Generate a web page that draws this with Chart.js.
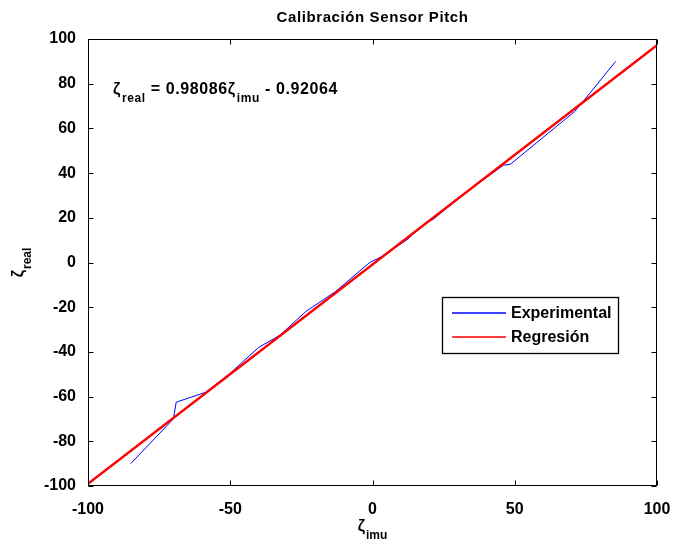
<!DOCTYPE html>
<html>
<head>
<meta charset="utf-8">
<script src="https://cdn.jsdelivr.net/npm/chart.js@4.4.1/dist/chart.umd.min.js"></script>
<style>
html,body{margin:0;padding:0;background:#fff;}
#c{display:block;}
</style>
</head>
<body>
<canvas id="c" width="677" height="542"></canvas>
<script>
const titleText = 'Calibración Sensor Pitch';
const seriesNames = ['Experimental', 'Regresión'];
const expX = [-85, -70, -69, -58.5, -50, -40, -32.5, -23.5, -13, -1, 3, 12.5, 14.5, 19, 21, 33, 46, 48.5, 71, 74, 85.5];
const expY = [-90, -70, -62.5, -58, -49.5, -38, -32.5, -22, -13, 0, 2.5, 10.5, 13, 18, 19, 31.5, 43.5, 44, 67.5, 72, 90];
const regX = [-100, 100];
const regY = [-99.0, 97.2];
const xTicks = [-100, -50, 0, 50, 100];
const yTicks = [-100, -80, -60, -40, -20, 0, 20, 40, 60, 80, 100];
const eqSlope = '0.98086';
const eqIntercept = '0.92064';

const FONT = '"Liberation Sans", Arial, sans-serif';

const toPts = (xs, ys) => xs.map((x, i) => ({x: x, y: ys[i]}));

const decor = {
  id: 'decor',
  afterDraw(chart) {
    const ctx = chart.ctx;
    const a = chart.chartArea;
    const xs = chart.scales.x, ys = chart.scales.y;
    ctx.save();
    // box
    ctx.strokeStyle = '#000';
    ctx.lineWidth = 1;
    const L = Math.round(a.left) + 0.5, R = Math.round(a.right) - 0.5;
    const T = Math.round(a.top) + 0.5, B = Math.round(a.bottom) - 0.5;
    ctx.strokeRect(L, T, R - L, B - T);
    // inward ticks
    const tl = 5;
    ctx.beginPath();
    xTicks.forEach(v => {
      const p = Math.round(xs.getPixelForValue(v)) + 0.5;
      ctx.moveTo(p, B); ctx.lineTo(p, B - tl);
      ctx.moveTo(p, T); ctx.lineTo(p, T + tl);
    });
    yTicks.forEach(v => {
      const p = Math.round(ys.getPixelForValue(v)) + 0.5;
      ctx.moveTo(L, p); ctx.lineTo(L + tl, p);
      ctx.moveTo(R, p); ctx.lineTo(R - tl, p);
    });
    ctx.stroke();

    ctx.fillStyle = '#000';
    // title
    ctx.font = 'bold 15px ' + FONT;
    ctx.letterSpacing = '0.6px';
    ctx.textAlign = 'center';
    ctx.textBaseline = 'middle';
    ctx.fillText(titleText, (a.left + a.right) / 2, 18);

    // helper for zeta with subscript
    function zsub(x, y, sub, main, subF) {
      ctx.textAlign = 'left';
      ctx.textBaseline = 'alphabetic';
      ctx.font = main;
      ctx.fillText('ζ', x, y);
      let w = ctx.measureText('ζ').width + 1;
      ctx.font = subF;
      ctx.fillText(sub, x + w, y + 8);
      w += ctx.measureText(sub).width;
      return w;
    }
    const mainF = 'bold 16px ' + FONT;
    const subF = 'bold 12px ' + FONT;

    // equation annotation
    ctx.letterSpacing = '0.6px';
    let x0 = 113, yb = 94;
    x0 += zsub(x0, yb, 'real', mainF, subF);
    ctx.font = mainF;
    let s = ' = ' + eqSlope;
    ctx.fillText(s, x0, yb);
    x0 += ctx.measureText(s).width;
    x0 += zsub(x0, yb, 'imu', mainF, subF);
    ctx.font = mainF;
    ctx.fillText(' - ' + eqIntercept, x0, yb);
    ctx.letterSpacing = '0px';

    // x axis label
    ctx.font = mainF;
    let wz = ctx.measureText('ζ').width + 1;
    ctx.font = subF;
    let wt = wz + ctx.measureText('imu').width;
    zsub((a.left + a.right) / 2 - wt / 2, 531, 'imu', mainF, subF);

    // y axis label
    ctx.save();
    ctx.translate(19, (a.top + a.bottom) / 2);
    ctx.rotate(-Math.PI / 2);
    ctx.font = subF;
    wt = wz + ctx.measureText('real').width;
    zsub(-wt / 2, 4, 'real', mainF, subF);
    ctx.restore();

    // legend
    const lx = 442.5, ly = 297.5, lw = 176, lh = 56;
    ctx.fillStyle = '#fff';
    ctx.fillRect(lx, ly, lw, lh);
    ctx.strokeStyle = '#000';
    ctx.lineWidth = 1.3;
    ctx.strokeRect(lx, ly, lw, lh);
    const cols = ['#0000ff', '#ff0000'];
    const rows = [313, 337];
    ctx.font = 'bold 16px ' + FONT;
    ctx.textAlign = 'left';
    ctx.textBaseline = 'middle';
    rows.forEach((ry, i) => {
      ctx.strokeStyle = cols[i];
      ctx.lineWidth = 1.5;
      ctx.beginPath();
      ctx.moveTo(452, ry); ctx.lineTo(506, ry);
      ctx.stroke();
      ctx.fillStyle = '#000';
      ctx.fillText(seriesNames[i], 511, ry + 1);
    });
    ctx.restore();
  }
};

new Chart(document.getElementById('c'), {
  type: 'scatter',
  data: {
    datasets: [
      {label: seriesNames[0], data: toPts(expX, expY), showLine: true, borderColor: '#0000ff', borderWidth: 1, pointRadius: 0, tension: 0, order: 2},
      {label: seriesNames[1], data: toPts(regX, regY), showLine: true, borderColor: '#ff0000', borderWidth: 2.4, pointRadius: 0, tension: 0, order: 1}
    ]
  },
  options: {
    responsive: false,
    animation: false,
    events: [],
    layout: {padding: {top: 39, right: 20, left: 0, bottom: 0}},
    plugins: {legend: {display: false}, title: {display: false}, tooltip: {enabled: false}},
    scales: {
      x: {
        type: 'linear', min: -100, max: 100,
        afterBuildTicks: s => { s.ticks = xTicks.map(v => ({value: v})); },
        afterFit: s => { s.height = 56; },
        grid: {display: false}, border: {display: false},
        ticks: {font: {family: FONT, size: 16, weight: 'bold'}, color: '#000', padding: 6, maxRotation: 0, autoSkip: false}
      },
      y: {
        type: 'linear', min: -100, max: 100,
        afterBuildTicks: s => { s.ticks = yTicks.map(v => ({value: v})); },
        afterFit: s => { s.width = 88; },
        grid: {display: false}, border: {display: false},
        ticks: {font: {family: FONT, size: 16, weight: 'bold'}, color: '#000', padding: 4, autoSkip: false}
      }
    }
  },
  plugins: [decor]
});
</script>
</body>
</html>
